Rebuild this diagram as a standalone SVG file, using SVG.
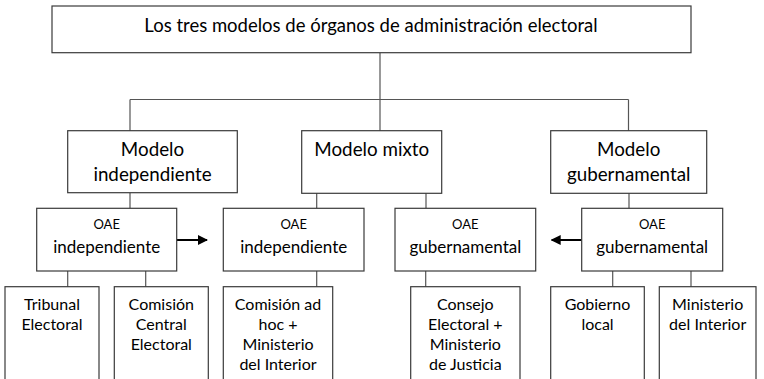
<svg xmlns="http://www.w3.org/2000/svg" width="764" height="379" viewBox="0 0 764 379">
<style>
.box{fill:#fff;stroke:#3a3a3a;stroke-width:1.2}
.con{stroke:#555;stroke-width:1.2;fill:none}
.arr{stroke:#000;stroke-width:2;fill:none}
text{font-family:Lato,"Open Sans",sans-serif;fill:#000;text-anchor:middle}
.t1{font-size:18.5px}
.t2{font-size:18.8px}
.t3{font-size:13px}
.t4{font-size:17px}
.t5{font-size:16px}
</style>
<defs>
<marker id="ah" markerWidth="10" markerHeight="10" refX="9" refY="5" orient="auto" markerUnits="userSpaceOnUse">
<path d="M0,0 L10,5 L0,10 Z" fill="#000"/>
</marker>
</defs>
<rect width="764" height="379" fill="#fff"/>
<g id="connectors">
<path class="con" d="M380,53 V99.5 M130,99.5 H628.5 M130,99.5 V131 M380,99.5 V131 M628.5,99.5 V131"/>
<path class="con" d="M130,193 V208.5 M316.7,193 V208.5 M426,193 V208.5 M629,193 V208.5"/>
<path class="con" d="M67.7,271 V287 M145.7,271 V287 M316.7,271 V287 M425.7,271 V287 M612.7,271 V287 M691,271 V287"/>
<path class="arr" d="M176.7,240 H207" marker-end="url(#ah)"/>
<path class="arr" d="M581.7,240 H551.7" marker-end="url(#ah)"/>
</g>
<g id="title">
<rect class="box" x="52" y="6" width="639" height="46.7"/>
<text class="t1" x="371" y="32">Los tres modelos de órganos de administración electoral</text>
</g>
<g id="modelo-independiente">
<rect class="box" x="67.7" y="130.7" width="169.6" height="62"/>
<text class="t2" x="152.5" y="156">Modelo</text>
<text class="t2" x="152.5" y="181">independiente</text>
</g>
<g id="modelo-mixto">
<rect class="box" x="301.7" y="130.7" width="140" height="62.6"/>
<text class="t2" x="371.7" y="156">Modelo mixto</text>
</g>
<g id="modelo-gubernamental">
<rect class="box" x="550.7" y="130.7" width="156" height="62.6"/>
<text class="t2" x="628.7" y="156">Modelo</text>
<text class="t2" x="628.7" y="181">gubernamental</text>
</g>
<g id="oae-ind-1">
<rect class="box" x="36.7" y="208.3" width="140" height="62.7"/>
<text class="t3" x="106.7" y="229">OAE</text>
<text class="t4" x="106.7" y="253">independiente</text>
</g>
<g id="oae-ind-2">
<rect class="box" x="223.3" y="208.3" width="140.7" height="62.7"/>
<text class="t3" x="293.7" y="229">OAE</text>
<text class="t4" x="293.7" y="253">independiente</text>
</g>
<g id="oae-gub-1">
<rect class="box" x="395" y="208.3" width="140.7" height="62.7"/>
<text class="t3" x="465.3" y="229">OAE</text>
<text class="t4" x="465.3" y="253">gubernamental</text>
</g>
<g id="oae-gub-2">
<rect class="box" x="581.7" y="208.3" width="141" height="62.7"/>
<text class="t3" x="652.2" y="229">OAE</text>
<text class="t4" x="652.2" y="253">gubernamental</text>
</g>
<g id="tribunal">
<rect class="box" x="5" y="286.7" width="94" height="100"/>
<text class="t5" x="52" y="310">Tribunal</text>
<text class="t5" x="52" y="330">Electoral</text>
</g>
<g id="comision-central">
<rect class="box" x="114.3" y="286.7" width="94" height="100"/>
<text class="t5" x="161.3" y="310">Comisión</text>
<text class="t5" x="161.3" y="330">Central</text>
<text class="t5" x="161.3" y="350">Electoral</text>
</g>
<g id="comision-adhoc">
<rect class="box" x="223.3" y="286.7" width="109.4" height="100"/>
<text class="t5" x="278" y="310">Comisión ad</text>
<text class="t5" x="278" y="330">hoc +</text>
<text class="t5" x="278" y="350">Ministerio</text>
<text class="t5" x="278" y="370">del Interior</text>
</g>
<g id="consejo">
<rect class="box" x="410.7" y="286.7" width="109.3" height="100"/>
<text class="t5" x="465.3" y="310">Consejo</text>
<text class="t5" x="465.3" y="330">Electoral +</text>
<text class="t5" x="465.3" y="350">Ministerio</text>
<text class="t5" x="465.3" y="370">de Justicia</text>
</g>
<g id="gobierno-local">
<rect class="box" x="550.7" y="286.7" width="93.6" height="100"/>
<text class="t5" x="597.5" y="310">Gobierno</text>
<text class="t5" x="597.5" y="330">local</text>
</g>
<g id="ministerio-interior">
<rect class="box" x="659.3" y="286.7" width="96.7" height="100"/>
<text class="t5" x="707.7" y="310">Ministerio</text>
<text class="t5" x="707.7" y="330">del Interior</text>
</g>
</svg>
